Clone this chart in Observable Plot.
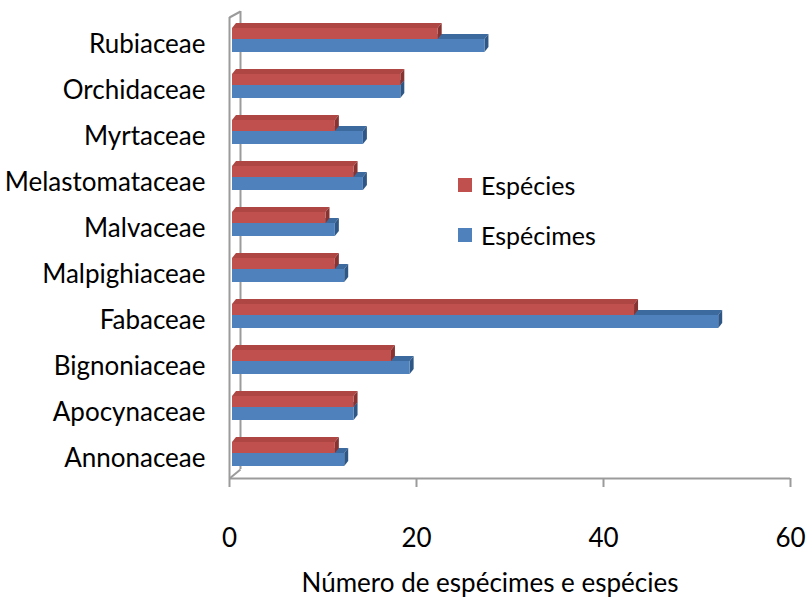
<!DOCTYPE html>
<html>
<head>
<meta charset="utf-8">
<script src="https://cdn.jsdelivr.net/npm/d3@7"></script>
<script src="https://cdn.jsdelivr.net/npm/@observablehq/plot@0.6"></script>
<style>
  html, body { margin: 0; padding: 0; background: #fff; }
  #wrap { position: relative; width: 806px; height: 607px; font-family: Lato, "Open Sans", sans-serif; }
  .lg { position: absolute; left: 458px; display: flex; align-items: center; font-size: 25px; line-height: 30px; color: #000; }
  .lg span.sw { display: inline-block; width: 14px; height: 14px; margin-right: 9px; }
</style>
</head>
<body>
<div id="wrap"></div>
<script>
// ---- data ----
const categories = ["Annonaceae","Apocynaceae","Bignoniaceae","Fabaceae","Malpighiaceae","Malvaceae","Melastomataceae","Myrtaceae","Orchidaceae","Rubiaceae"];
const especies  = [11, 13, 17, 43, 11, 10, 13, 11, 18, 22];
const especimes = [12, 13, 19, 52, 12, 11, 14, 14, 18, 27];
const xTicks = [0, 20, 40, 60];
const seriesNames = ["Espécimes", "Espécies"];
const axisTitle = "Número de espécimes e espécies";

// ---- styles / geometry (not data) ----
const FS = 26;
const PX = 46;                 // pixels per category step
const DY = 5 / PX;             // 3D depth (vertical, in category units)
const DX = 4 / 9.35;           // 3D depth (horizontal, in value units)
const styles = [
  {lo: -8 / PX, hi: 5 / PX,  front: "#4F81BD", top: "#3D6A9E", side: "#2F5786"},
  {lo: 5 / PX,  hi: 16 / PX, front: "#C0504D", top: "#AE4744", side: "#873331"}
];
const gray = "#9B9B9B";
const floorY = -20 / PX, frontTop = (458 - 17) / PX, backTop = (458 - 11) / PX, backBottom = (458 - 469) / PX;
const wallX = 11 / 9.35;

const seriesValues = [especimes, especies];

const marks = [];
// walls
marks.push(Plot.ruleX([0], {y1: floorY, y2: frontTop, stroke: gray, strokeWidth: 2}));
marks.push(Plot.ruleX([wallX], {y1: backBottom, y2: backTop, stroke: gray, strokeWidth: 2}));
marks.push(Plot.link([0], {x1: 0, y1: frontTop, x2: wallX, y2: backTop, stroke: gray, strokeWidth: 2}));
marks.push(Plot.link([0], {x1: 0, y1: floorY, x2: wallX, y2: backBottom, stroke: gray, strokeWidth: 2}));
marks.push(Plot.ruleY([floorY], {x1: 0, x2: 60, stroke: gray, strokeWidth: 2}));

seriesValues.forEach((vals, s) => {
  const st = styles[s];
  const rows = vals.map((v, i) => ({id: s + "-" + i, i, v, name: seriesNames[s], y1: i + st.lo, y2: i + st.hi}));
  const topPts = rows.flatMap(r => [
    {id: r.id, y: r.y2, x1: 0, x2: r.v},
    {id: r.id, y: r.y2 + DY, x1: DX, x2: r.v + DX}
  ]);
  const sidePts = rows.flatMap(r => [
    {id: r.id, x: r.v, y1: r.y1, y2: r.y2},
    {id: r.id, x: r.v + DX, y1: r.y1 + DY, y2: r.y2 + DY}
  ]);
  marks.push(Plot.areaX(topPts, {y: "y", x1: "x1", x2: "x2", z: "id", fill: st.top, dx: 3}));
  marks.push(Plot.areaY(sidePts, {x: "x", y1: "y1", y2: "y2", z: "id", fill: st.side, dx: 3}));
  marks.push(Plot.rectX(rows, {x1: 0, x2: "v", y1: "y1", y2: "y2", fill: st.front, dx: 3}));
});

marks.push(Plot.axisX({ticks: xTicks, tickSize: 9, tickPadding: 41, stroke: gray, strokeWidth: 2, fill: "#000", fontSize: FS, label: null}));
marks.push(Plot.axisY({ticks: d3.range(categories.length), tickFormat: i => categories[i], tickSize: 0, tickPadding: 24, fill: "#000", fontSize: FS, label: null}));
marks.push(Plot.text([axisTitle], {frameAnchor: "bottom", dy: 105, dx: -20, fontSize: FS, fill: "#000", lineAnchor: "middle"}));

const chart = Plot.plot({
  width: 806,
  height: 607,
  marginLeft: 229,
  marginRight: 16,
  marginTop: 10,
  marginBottom: 129,
  style: {fontFamily: "Lato, 'Open Sans', sans-serif", fontSize: FS + "px", background: "#fff", overflow: "visible"},
  x: {domain: [0, 60], range: [229, 790]},
  y: {domain: [0, 9], range: [458, 44]},
  marks
});
const wrap = document.getElementById("wrap");
wrap.appendChild(chart);

// legend (inside plot area)
const legendItems = [
  {name: seriesNames[1], color: styles[1].front, top: 170},
  {name: seriesNames[0], color: styles[0].front, top: 220}
];
legendItems.forEach(it => {
  const d = document.createElement("div");
  d.className = "lg";
  d.style.top = it.top + "px";
  d.innerHTML = `<span class="sw" style="background:${it.color}"></span><span>${it.name}</span>`;
  wrap.appendChild(d);
});
</script>
</body>
</html>
